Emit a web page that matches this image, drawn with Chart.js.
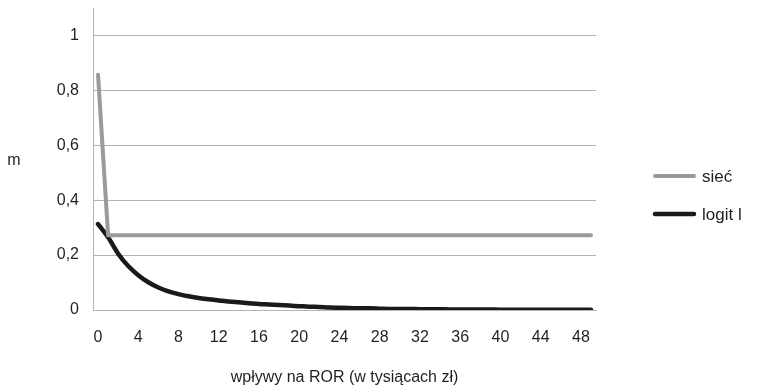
<!DOCTYPE html>
<html>
<head>
<meta charset="utf-8">
<script src="https://cdn.jsdelivr.net/npm/chart.js@4/dist/chart.umd.min.js"></script>
<style>
  html, body { margin: 0; padding: 0; background: #ffffff; }
  #wrap { width: 760px; height: 391px; position: relative; }
</style>
</head>
<body>
<div id="wrap"><canvas id="c" width="760" height="391"></canvas></div>
<script>
// ---- data ----
const categories = Array.from({length: 50}, (_, i) => String(i));
const siecValues = [0.857,
  0.272, 0.272, 0.272, 0.272, 0.272, 0.272, 0.272, 0.272, 0.272, 0.272,
  0.272, 0.272, 0.272, 0.272, 0.272, 0.272, 0.272, 0.272, 0.272, 0.272,
  0.272, 0.272, 0.272, 0.272, 0.272, 0.272, 0.272, 0.272, 0.272, 0.272,
  0.272, 0.272, 0.272, 0.272, 0.272, 0.272, 0.272, 0.272, 0.272, 0.272,
  0.272, 0.272, 0.272, 0.272, 0.272, 0.272, 0.272, 0.272, 0.272];
const logitValues = [0.313,
  0.265, 0.205, 0.160, 0.127, 0.101, 0.082, 0.068, 0.058, 0.050, 0.044,
  0.039, 0.035, 0.031, 0.028, 0.025, 0.022, 0.020, 0.018, 0.016, 0.014,
  0.012, 0.011, 0.009, 0.008, 0.007, 0.006, 0.006, 0.005, 0.004, 0.004,
  0.004, 0.003, 0.003, 0.003, 0.002, 0.002, 0.002, 0.002, 0.002, 0.001,
  0.001, 0.001, 0.001, 0.001, 0.001, 0.001, 0.001, 0.001, 0.001];
const seriesLabels = ['sieć', 'logit l'];
const yTickValues = [0, 0.2, 0.4, 0.6, 0.8, 1];
const xLabelStep = 4;
const xTitle = 'wpływy na ROR (w tysiącach zł)';
const yTitle = 'm';

const FONT = "'Liberation Sans', Arial, Helvetica, sans-serif";
const FS = 16;
const TEXT = '#231f20';
const GRID = '#b4b4b4';

const sideLegend = {
  id: 'sideLegend',
  afterDraw(chart) {
    const ctx = chart.ctx;
    ctx.save();
    ctx.textBaseline = 'middle';
    ctx.textAlign = 'left';
    const ys = [176, 214];
    chart.data.datasets.forEach((ds, i) => {
      ctx.strokeStyle = ds.borderColor;
      ctx.lineWidth = ds.borderWidth;
      ctx.lineCap = 'round';
      ctx.beginPath();
      ctx.moveTo(655, ys[i]);
      ctx.lineTo(694, ys[i]);
      ctx.stroke();
      ctx.fillStyle = TEXT;
      ctx.font = '17px ' + FONT;
      ctx.fillText(ds.label, 702, ys[i] + 1);
    });
    // y title (horizontal)
    const ca = chart.chartArea;
    ctx.font = FS + 'px ' + FONT;
    ctx.textAlign = 'center';
    ctx.fillText(yTitle, 14, (ca.top + ca.bottom) / 2 + 2);
    ctx.restore();
  }
};

new Chart(document.getElementById('c'), {
  type: 'line',
  data: {
    labels: categories,
    datasets: [
      { label: seriesLabels[0], data: siecValues, borderColor: '#9a9a9a', borderWidth: 4,
        pointRadius: 0, tension: 0, borderCapStyle: 'round', borderJoinStyle: 'round', fill: false },
      { label: seriesLabels[1], data: logitValues, borderColor: '#1a1a1a', borderWidth: 4.5,
        pointRadius: 0, cubicInterpolationMode: 'monotone', borderCapStyle: 'round', borderJoinStyle: 'round', fill: false }
    ]
  },
  options: {
    responsive: false,
    animation: false,
    devicePixelRatio: 1,
    layout: { padding: { left: 56, right: 164, top: 8, bottom: 0 } },
    plugins: { legend: { display: false }, tooltip: { enabled: false } },
    scales: {
      x: {
        type: 'category',
        offset: true,
        afterFit: (s) => { s.height = 81; s.paddingLeft = 0; s.paddingRight = 0; },
        grid: { display: false, drawTicks: false },
        border: { display: true, color: GRID, width: 1 },
        ticks: {
          autoSkip: false, maxRotation: 0, minRotation: 0, padding: 18,
          color: TEXT, font: { family: FONT, size: FS },
          callback: (v, i) => (i % xLabelStep === 0 ? categories[i] : '')
        },
        title: { display: true, text: xTitle, color: TEXT, font: { family: FONT, size: FS },
                 padding: { top: 23, bottom: 4 } }
      },
      y: {
        min: 0, max: 1.1,
        afterBuildTicks: (axis) => { axis.ticks = yTickValues.map(v => ({ value: v })); },
        afterFit: (s) => { s.width = 37; s.paddingTop = 0; s.paddingBottom = 0; },
        grid: { color: GRID, lineWidth: 1, drawTicks: false },
        border: { display: true, color: GRID, width: 1 },
        ticks: {
          padding: 14, color: TEXT, font: { family: FONT, size: FS },
          callback: (v) => String(Math.round(v * 10) / 10).replace('.', ',')
        }
      }
    }
  },
  plugins: [sideLegend]
});
</script>
</body>
</html>
